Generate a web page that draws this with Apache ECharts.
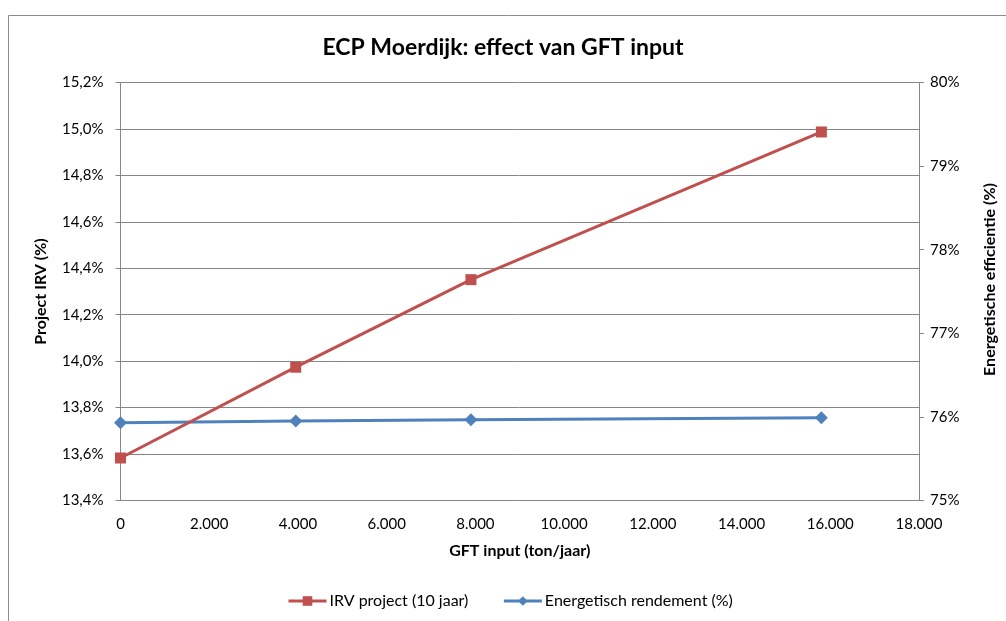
<!DOCTYPE html>
<html>
<head>
<meta charset="utf-8">
<script src="https://cdn.jsdelivr.net/npm/echarts@6/dist/echarts.min.js"></script>
<style>
  html, body { margin: 0; padding: 0; background: #fff; }
  #chart { width: 1006px; height: 621px; }
</style>
</head>
<body>
<div id="chart"></div>
<script>
// GFT input (ton/jaar) per scenario
const gftInput = [0, 3950, 7900, 15800];
// Project IRV (%) — left axis
const irvProject = [13.583, 13.974, 14.351, 14.987];
// Energetisch rendement (%) — right axis
const energetischRendement = [75.93, 75.95, 75.965, 75.99];

const FONT = 'Lato';
const toPairs = (xs, ys) => xs.map((x, i) => [x, ys[i]]);
const thousands = (v) => String(v).replace(/\B(?=(\d{3})+(?!\d))/g, '.');

const chart = echarts.init(document.getElementById('chart'));
chart.setOption({
  backgroundColor: '#fff',
  animation: false,
  textStyle: { fontFamily: FONT, color: '#000' },
  title: {
    text: 'ECP Moerdijk: effect van GFT input',
    left: 'center',
    top: 31,
    textStyle: { fontFamily: FONT, fontSize: 23, fontWeight: 'bold', color: '#000' },
  },
  graphic: [
    {
      type: 'rect',
      shape: { x: 8.5, y: 15.5, width: 1200, height: 800 },
      style: { fill: 'none', stroke: '#8c8c8c', lineWidth: 1 },
      silent: true,
    },
  ],
  legend: {
    bottom: 7,
    left: 282,
    itemWidth: 38,
    itemHeight: 12,
    itemGap: 34,
    textStyle: { fontFamily: FONT, fontSize: 16, color: '#000', padding: [0, 0, 0, -2] },
    data: [
      { name: 'IRV project (10 jaar)', lineStyle: { width: 3 } },
      { name: 'Energetisch rendement (%)', lineStyle: { width: 3 } },
    ],
  },
  grid: { left: 120.5, right: 85.5, top: 82.5, bottom: 120.5 },
  xAxis: {
    type: 'value',
    min: 0,
    max: 18000,
    interval: 2000,
    name: 'GFT input (ton/jaar)',
    nameLocation: 'middle',
    nameGap: 42,
    nameTextStyle: { fontFamily: FONT, fontSize: 16, fontWeight: 'bold', color: '#000' },
    axisLine: { lineStyle: { color: '#868686' } },
    axisTick: { show: false },
    axisLabel: { color: '#000', fontSize: 15, margin: 16, formatter: (v) => thousands(v) },
    splitLine: { show: false },
  },
  yAxis: [
    {
      type: 'value',
      min: 13.4,
      max: 15.2,
      interval: 0.2,
      name: 'Project IRV (%)',
      nameLocation: 'middle',
      nameGap: 72,
      nameTextStyle: { fontFamily: FONT, fontSize: 16, fontWeight: 'bold', color: '#000' },
      axisLine: { show: true, lineStyle: { color: '#868686' } },
      axisTick: { show: true, length: 5, lineStyle: { color: '#868686' } },
      axisLabel: {
        color: '#000',
        fontSize: 15,
        margin: 17,
        formatter: (v) => v.toFixed(1).replace('.', ',') + '%',
      },
      splitLine: { show: true, lineStyle: { color: '#868686', width: 1 } },
    },
    {
      type: 'value',
      min: 75,
      max: 80,
      interval: 1,
      position: 'right',
      name: 'Energetische efficientie (%)',
      nameLocation: 'middle',
      nameGap: 63,
      nameRotate: 90,
      nameTextStyle: {
        fontFamily: FONT,
        fontSize: 16,
        fontWeight: 'bold',
        color: '#000',
        padding: [0, 0, 0, 24],
      },
      axisLine: { show: true, lineStyle: { color: '#868686' } },
      axisTick: { show: true, length: 5, lineStyle: { color: '#868686' } },
      axisLabel: { color: '#000', fontSize: 15, margin: 11, formatter: (v) => v + '%' },
      splitLine: { show: false },
    },
  ],
  series: [
    {
      name: 'IRV project (10 jaar)',
      type: 'line',
      yAxisIndex: 0,
      data: toPairs(gftInput, irvProject),
      symbol: 'rect',
      symbolSize: 11,
      showSymbol: true,
      lineStyle: { color: '#C0504D', width: 3 },
      itemStyle: { color: '#C0504D' },
      z: 3,
    },
    {
      name: 'Energetisch rendement (%)',
      type: 'line',
      yAxisIndex: 1,
      data: toPairs(gftInput, energetischRendement),
      symbol: 'diamond',
      symbolSize: 13,
      showSymbol: true,
      lineStyle: { color: '#4F81BD', width: 3 },
      itemStyle: { color: '#4F81BD' },
      z: 2,
    },
  ],
});

window.addEventListener('resize', () => chart.resize());
</script>
</body>
</html>
